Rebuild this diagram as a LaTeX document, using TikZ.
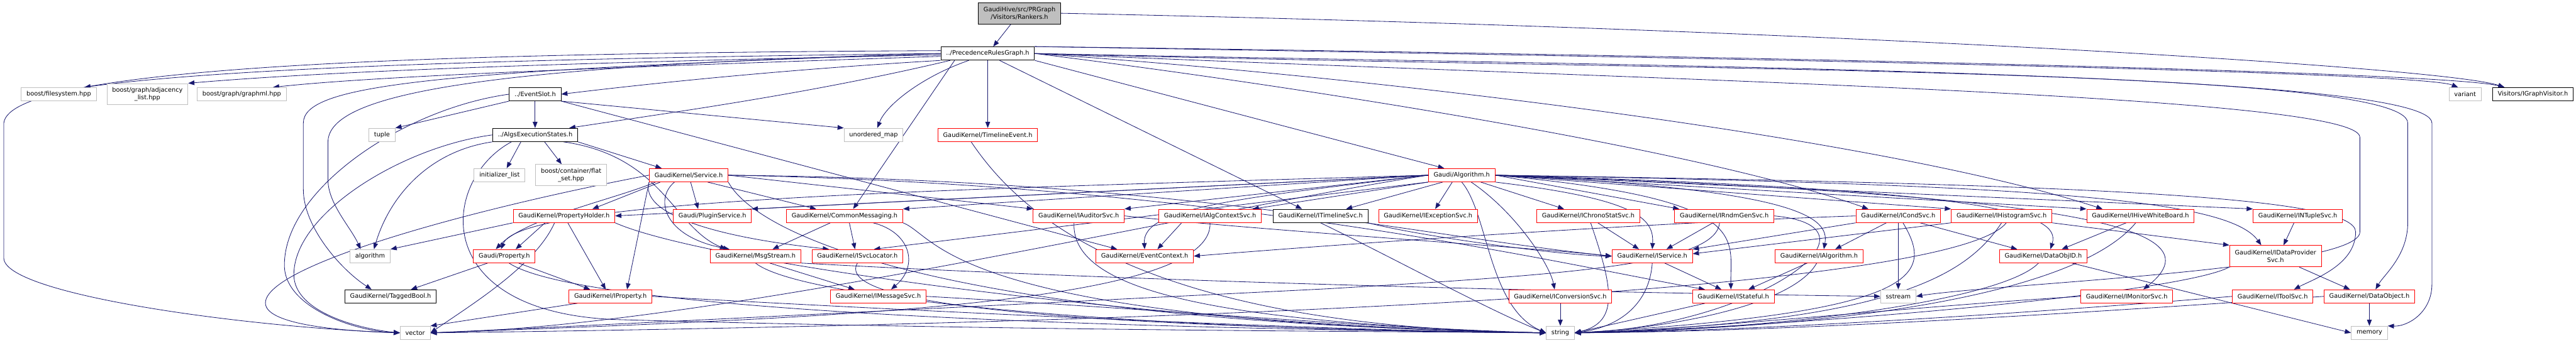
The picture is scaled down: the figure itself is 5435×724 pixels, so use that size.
\documentclass[tikz,border=0pt]{standalone}
\usepackage{fontspec}
\setmainfont{DejaVu Sans}
\usepackage{xcolor}
\usepackage{tikz}
\usetikzlibrary{arrows.meta,positioning,calc}
\definecolor{edgeblue}{HTML}{191970}
\definecolor{boxred}{HTML}{FF0000}
\definecolor{boxgray}{HTML}{BFBFBF}
\pgfdeclarelayer{bg}
\pgfsetlayers{bg,main}
\begin{document}
\begin{tikzpicture}[
  x=1pt, y=-1pt,
  font=\fontsize{13}{16}\selectfont,
  box/.style={draw, fill=white, line width=1.3pt, inner xsep=11pt, inner ysep=0pt, minimum height=28pt, align=center},
  redbox/.style={box, draw=boxred},
  graybox/.style={box, draw=boxgray},
  blackbox/.style={box, draw=black},
  rootbox/.style={box, draw=black, fill=boxgray},
  tall/.style={minimum height=45pt},
  arr/.style={-{Triangle[length=13pt,width=10pt]}, line width=1.1pt, draw=edgeblue}
]
\useasboundingbox (0,0) rectangle (5435,724);
\node[rootbox, tall] (rank) at (2151,28) {GaudiHive/src/PRGraph\\/Visitors/Rankers.h};
\node[blackbox] (prg) at (2084,113) {../PrecedenceRulesGraph.h};
\node[graybox] (fs) at (124,199) {boost/filesystem.hpp};
\node[graybox, tall] (adj) at (311,199) {boost/graph/adjacency\\\_list.hpp};
\node[graybox] (gml) at (510,199) {boost/graph/graphml.hpp};
\node[blackbox] (evs) at (1129,199) {../EventSlot.h};
\node[graybox] (var) at (5201,199) {variant};
\node[blackbox] (gvis) at (5344,199) {Visitors/IGraphVisitor.h};
\node[graybox] (tup) at (806,285) {tuple};
\node[blackbox] (aes) at (1129,285) {../AlgsExecutionStates.h};
\node[graybox] (umap) at (1843,285) {unordered\_map};
\node[redbox] (tle) at (2084,285) {GaudiKernel/TimelineEvent.h};
\node[graybox] (ini) at (1054,370) {initializer\_list};
\node[graybox, tall] (flat) at (1205,370) {boost/container/flat\\\_set.hpp};
\node[redbox] (svc) at (1453,370) {GaudiKernel/Service.h};
\node[redbox] (alg) at (3084,370) {Gaudi/Algorithm.h};
\node[redbox] (ph) at (1190,456) {GaudiKernel/PropertyHolder.h};
\node[redbox] (plug) at (1503,456) {Gaudi/PluginService.h};
\node[redbox] (cm) at (1782,456) {GaudiKernel/CommonMessaging.h};
\node[redbox] (iaud) at (2276,456) {GaudiKernel/IAuditorSvc.h};
\node[redbox] (iacs) at (2553,456) {GaudiKernel/IAlgContextSvc.h};
\node[blackbox] (itl) at (2786,456) {GaudiKernel/ITimelineSvc.h};
\node[redbox] (iexc) at (3013,456) {GaudiKernel/IExceptionSvc.h};
\node[redbox] (ichr) at (3351,456) {GaudiKernel/IChronoStatSvc.h};
\node[redbox] (irnd) at (3638,456) {GaudiKernel/IRndmGenSvc.h};
\node[redbox] (icnd) at (4005,456) {GaudiKernel/ICondSvc.h};
\node[redbox] (ihis) at (4223,456) {GaudiKernel/IHistogramSvc.h};
\node[redbox] (ihwb) at (4516,456) {GaudiKernel/IHiveWhiteBoard.h};
\node[redbox] (intp) at (4848,456) {GaudiKernel/INTupleSvc.h};
\node[graybox] (algo) at (781,541) {algorithm};
\node[redbox] (prop) at (1064,541) {Gaudi/Property.h};
\node[redbox] (msg) at (1594,541) {GaudiKernel/MsgStream.h};
\node[redbox] (isl) at (1809,541) {GaudiKernel/ISvcLocator.h};
\node[redbox] (ectx) at (2415,541) {GaudiKernel/EventContext.h};
\node[redbox] (isv) at (3486,541) {GaudiKernel/IService.h};
\node[redbox] (ialg) at (3838,541) {GaudiKernel/IAlgorithm.h};
\node[redbox] (doid) at (4311,541) {GaudiKernel/DataObjID.h};
\node[redbox, tall] (idp) at (4801,541) {GaudiKernel/IDataProvider\\Svc.h};
\node[blackbox] (tb) at (824,626) {GaudiKernel/TaggedBool.h};
\node[redbox] (iprop) at (1288,626) {GaudiKernel/IProperty.h};
\node[redbox] (imsg) at (1853,626) {GaudiKernel/IMessageSvc.h};
\node[redbox] (icnv) at (3292,626) {GaudiKernel/IConversionSvc.h};
\node[redbox] (ist) at (3657,626) {GaudiKernel/IStateful.h};
\node[graybox] (sst) at (4005,626) {sstream};
\node[redbox] (imon) at (4487,626) {GaudiKernel/IMonitorSvc.h};
\node[redbox] (itool) at (4795,626) {GaudiKernel/IToolSvc.h};
\node[redbox] (dobj) at (4999,626) {GaudiKernel/DataObject.h};
\node[graybox] (vec) at (876,703) {vector};
\node[graybox] (str) at (3292,703) {string};
\node[graybox] (mem) at (4999,703) {memory};
\begin{pgfonlayer}{bg}
\draw[arr] (rank) -- (prg);
\draw[arr] (rank.east) .. controls (3800,60) and (5150,140) .. ([xshift=-60pt]gvis.north);
\draw[arr] (prg.west) .. controls (1200,122) and (500,140) .. ([xshift=54pt]fs.north);
\draw[arr] ([yshift=-3pt]prg.west) .. controls (1200,132) and (700,150) .. (adj.north east);
\draw[arr] ([yshift=-6pt]prg.west) .. controls (1300,142) and (800,160) .. ([xshift=66pt]gml.north);
\draw[arr] ([yshift=6pt]prg.west) .. controls (900,112) and (20,140) .. (8,260) -- (8,545) .. controls (8,620) and (500,690) .. (vec.west);
\draw[arr] (prg.south west) .. controls (1600,150) and (1300,185) .. (evs.east);
\draw[arr] ([xshift=20pt]prg.south west) .. controls (1700,200) and (1400,240) .. ([xshift=72pt]aes.north);
\draw[arr] ([xshift=-40pt]prg.south) .. controls (1950,160) and (1870,220) .. ([xshift=8pt]umap.north);
\draw[arr] ([xshift=-70pt]prg.south) -- ([xshift=18pt]cm.north);
\draw[arr] (prg) -- (tle);
\draw[arr] ([xshift=25pt]prg.south) -- ([xshift=-39pt]itl.north);
\draw[arr] (prg.south east) -- ([xshift=-37pt]alg.north);
\draw[arr] (prg.east) .. controls (2800,190) and (3600,320) .. ([xshift=-63pt]icnd.north);
\draw[arr] (prg.east) .. controls (3000,170) and (4000,300) .. ([xshift=-80pt]ihwb.north);
\draw[arr] (prg.north east) .. controls (3500,120) and (5100,150) .. ([xshift=-15pt]var.north);
\draw[arr] (prg.north east) .. controls (3500,115) and (5150,150) .. ([xshift=-60pt]gvis.north);
\draw[arr] (prg.east) .. controls (3500,150) and (5080,140) .. (5080,260) -- (5080,470) .. controls (5080,540) and (5030,580) .. ([xshift=13pt]dobj.north);
\draw[arr] (prg.east) .. controls (3500,140) and (5131,150) .. (5131,260) -- (5131,600) .. controls (5131,660) and (5080,690) .. (mem.north east);
\draw[arr] (prg.east) .. controls (3500,170) and (4979,200) .. (4979,290) -- (4979,490) .. controls (4979,570) and (4200,600) .. (sst.east);
\draw[arr] (prg.west) .. controls (1000,140) and (692,200) .. (692,300) -- (692,380) .. controls (692,430) and (740,480) .. ([xshift=-20pt]algo.north);
\draw[arr] (prg.west) .. controls (900,150) and (640,180) .. (640,260) -- (640,400) .. controls (640,480) and (720,570) .. ([xshift=-40pt]tb.north);
\draw[arr] (evs) -- (aes);
\draw[arr] (evs.south west) -- (tup.north east);
\draw[arr] (evs.south east) -- (umap.north west);
\draw[arr] (evs.south east) -- ([xshift=-58pt]ectx.north);
\draw[arr] (evs.west) .. controls (850,230) and (600,400) .. (600,560) .. controls (600,650) and (750,700) .. (vec.west);
\draw[arr] ([xshift=-30pt]aes.south) -- ([xshift=15pt]ini.north);
\draw[arr] ([xshift=20pt]aes.south) -- ([xshift=-20pt]flat.north);
\draw[arr] (aes.south west) .. controls (900,320) and (820,420) .. ([xshift=8pt]algo.north);
\draw[arr] (aes.west) .. controls (850,310) and (620,450) .. (620,580) .. controls (620,660) and (760,695) .. (vec.west);
\draw[arr] (aes.south east) -- ([xshift=-57pt]svc.north);
\draw[arr] ([xshift=-50pt]aes.south) .. controls (930,380) and (900,660) .. (1300,675) .. controls (2200,700) and (3000,700) .. (str.west);
\draw[arr] ([xshift=60pt]aes.south) .. controls (1400,330) and (1420,480) .. ([xshift=-62pt]msg.north);
\draw[arr] ([xshift=-35pt]tle.south) .. controls (2150,450) and (2400,690) .. (str.west);
\draw[arr] ([xshift=-60pt]svc.south) -- ([xshift=60pt]ph.north);
\draw[arr] (svc) -- ([xshift=-30pt]plug.north);
\draw[arr] ([xshift=40pt]svc.south) -- ([xshift=-60pt]cm.north);
\draw[arr] ([xshift=-30pt]svc.south) .. controls (1380,420) and (1400,500) .. ([xshift=-55pt]msg.north);
\draw[arr] (svc.south west) .. controls (1350,450) and (1500,500) .. ([xshift=-60pt]isl.north);
\draw[arr] ([xshift=-70pt]svc.south) .. controls (1300,420) and (1110,460) .. ([xshift=-18pt]prop.north);
\draw[arr] (svc.east) -- (iaud.north west);
\draw[arr] (svc.east) .. controls (2500,380) and (3000,500) .. (isv.west);
\draw[arr] (svc.east) .. controls (2600,390) and (3300,560) .. ([xshift=-60pt]ist.north);
\draw[arr] (svc.south west) -- ([xshift=35pt]iprop.north);
\draw[arr] (svc.west) .. controls (1000,440) and (560,560) .. (560,640) .. controls (560,690) and (750,700) .. (vec.west);
\draw[arr] (svc.south east) .. controls (1600,500) and (2000,680) .. (str.west);
\draw[arr] (alg.west) -- (ph.east);
\draw[arr] (alg.west) -- (plug.north east);
\draw[arr] (alg.west) -- (cm.north east);
\draw[arr] (alg.west) -- (iaud.north east);
\draw[arr] (alg.south west) -- ([xshift=90pt]iacs.north);
\draw[arr] ([xshift=-40pt]alg.south) -- ([xshift=54pt]itl.north);
\draw[arr] ([xshift=-20pt]alg.south) -- ([xshift=15pt]iexc.north);
\draw[arr] ([xshift=40pt]alg.south) -- ([xshift=-51pt]ichr.north);
\draw[arr] (alg.east) -- ([xshift=-95pt]irnd.north);
\draw[arr] (alg.east) -- (ihis.north west);
\draw[arr] (alg.east) -- (ihwb.north west);
\draw[arr] (alg.east) -- (intp.north west);
\draw[arr] (alg.west) .. controls (2000,400) and (1100,420) .. ([xshift=-7pt]prop.north);
\draw[arr] (alg.south west) -- ([xshift=35pt]isl.north);
\draw[arr] (alg.west) .. controls (2600,420) and (2410,440) .. (ectx.north);
\draw[arr] (alg.south east) .. controls (3450,420) and (3490,460) .. (isv.north);
\draw[arr] (alg.east) .. controls (3800,400) and (3860,460) .. ([xshift=10pt]ialg.north);
\draw[arr] (alg.east) .. controls (4200,400) and (4350,450) .. ([xshift=15pt]doid.north);
\draw[arr] (alg.east) .. controls (4300,390) and (4700,420) .. ([xshift=-30pt]idp.north);
\draw[arr] ([xshift=20pt]alg.south) .. controls (3200,450) and (3270,560) .. ([xshift=-12pt]icnv.north);
\draw[arr] (alg.east) .. controls (4300,410) and (4700,470) .. ([xshift=35pt]imon.north);
\draw[arr] (alg.east) .. controls (4500,390) and (4970,420) .. (4970,490) .. controls (4970,560) and (4880,590) .. ([xshift=45pt]itool.north);
\draw[arr] (alg.south) .. controls (3140,450) and (3140,650) .. (str.west);
\draw[arr] (alg.west) .. controls (2500,450) and (1500,690) .. (vec.east);
\draw[arr] (alg.east) .. controls (3700,420) and (3650,500) .. ([xshift=-5pt]ist.north);
\draw[arr] (ph.south west) -- (algo.north east);
\draw[arr] ([xshift=-40pt]ph.south) -- ([xshift=24pt]prop.north);
\draw[arr] ([xshift=-20pt]ph.south) .. controls (1130,560) and (1000,640) .. (vec.east);
\draw[arr] ([xshift=8pt]ph.south) -- ([xshift=-10pt]iprop.north);
\draw[arr] (ph.south east) .. controls (1500,560) and (2500,690) .. (str.west);
\draw[arr] ([xshift=-30pt]cm.south) -- ([xshift=36pt]msg.north);
\draw[arr] ([xshift=10pt]cm.south) -- ([xshift=-5pt]isl.north);
\draw[arr] ([xshift=60pt]cm.south) .. controls (1920,490) and (1940,560) .. ([xshift=27pt]imsg.north);
\draw[arr] (cm.south east) .. controls (1980,500) and (2000,680) .. (str.west);
\draw[arr] ([xshift=-35pt]prop.south) -- ([xshift=43pt]tb.north);
\draw[arr] ([xshift=30pt]prop.south) -- ([xshift=-43pt]iprop.north);
\draw[arr] ([xshift=10pt]prop.south) .. controls (1200,640) and (2000,690) .. (str.west);
\draw[arr] ([xshift=-70pt]iprop.south) -- (vec.north east);
\draw[arr] (iprop.east) .. controls (1800,650) and (2800,700) .. (str.west);
\draw[arr] ([xshift=30pt]msg.south) -- ([xshift=-50pt]imsg.north);
\draw[arr] (msg.south) .. controls (1700,640) and (2500,700) .. (str.west);
\draw[arr] (msg.south east) .. controls (2500,600) and (3500,620) .. (sst.west);
\draw[arr] (isl.south) .. controls (1760,640) and (2200,690) .. (str.west);
\draw[arr] (imsg.east) .. controls (2400,650) and (3000,700) .. (str.west);
\draw[arr] ([xshift=-10pt]iaud.south) .. controls (2260,600) and (2500,680) .. (str.west);
\draw[arr] (iaud.east) .. controls (2700,490) and (3200,520) .. (isv.west);
\draw[arr] ([xshift=-60pt]iacs.south) -- ([xshift=27pt]ectx.north);
\draw[arr] (iacs.south) .. controls (2560,640) and (1800,670) .. (vec.east);
\draw[arr] (itl.south) .. controls (2950,550) and (3150,660) .. (str.west);
\draw[arr] (itl.south east) .. controls (3000,500) and (3300,540) .. (isv.west);
\draw[arr] ([xshift=20pt]ichr.south) -- ([xshift=-28pt]isv.north);
\draw[arr] ([xshift=5pt]ichr.south) .. controls (3400,600) and (3420,680) .. (str.east);
\draw[arr] ([xshift=-24pt]irnd.south) -- ([xshift=30pt]isv.north);
\draw[arr] ([xshift=-10pt]irnd.south) .. controls (3620,560) and (3300,580) .. (2800,610) .. controls (2000,650) and (1200,690) .. (vec.east);
\draw[arr] (irnd.east) .. controls (4000,480) and (3700,690) .. (str.east);
\draw[arr] ([xshift=-25pt]icnd.south) -- ([xshift=34pt]ialg.north);
\draw[arr] (icnd) -- (sst);
\draw[arr] (icnd.south west) -- (isv.north east);
\draw[arr] ([xshift=46pt]icnd.south) -- ([xshift=-55pt]doid.north);
\draw[arr] ([xshift=10pt]icnd.south) .. controls (4080,580) and (4060,660) .. (str.east);
\draw[arr] (icnd.west) .. controls (3500,470) and (2900,510) .. (ectx.east);
\draw[arr] (ihis.south west) -- ([yshift=5pt]isv.east);
\draw[arr] (ihis.south east) -- (idp.north west);
\draw[arr] (ihis.south) .. controls (4150,580) and (4000,680) .. (str.east);
\draw[arr] ([xshift=10pt]ihis.south) .. controls (4100,640) and (2000,690) .. (vec.east);
\draw[arr] ([xshift=-30pt]ihwb.south) -- ([xshift=39pt]doid.north);
\draw[arr] ([xshift=-10pt]ihwb.south) .. controls (4400,600) and (4000,690) .. (str.east);
\draw[arr] ([xshift=-8pt]intp.south) -- ([xshift=17pt]idp.north);
\draw[arr] ([xshift=26pt]isv.south) -- ([xshift=-25pt]ist.north);
\draw[arr] (isv.south) .. controls (3480,640) and (3420,690) .. (str.east);
\draw[arr] ([xshift=-25pt]ialg.south) -- ([xshift=32pt]ist.north);
\draw[arr] ([xshift=-5pt]ialg.south) .. controls (3780,650) and (3500,695) .. (str.east);
\draw[arr] ([xshift=-60pt]ist.south) -- (str.east);
\draw[arr] (icnv) -- (str);
\draw[arr] ([xshift=-10pt]doid.south) .. controls (4220,640) and (3700,700) .. (str.east);
\draw[arr] ([xshift=60pt]doid.south) -- (mem.west);
\draw[arr] ([xshift=50pt]idp.south) -- ([xshift=-41pt]dobj.north);
\draw[arr] (idp.south west) .. controls (4600,620) and (3800,690) .. (str.east);
\draw[arr] (imon.west) .. controls (4000,650) and (3600,695) .. (str.east);
\draw[arr] (itool.west) .. controls (4300,660) and (3700,700) .. (str.east);
\draw[arr] (dobj) -- (mem);
\draw[arr] (dobj.west) .. controls (4400,660) and (3800,700) .. (str.east);
\end{pgfonlayer}
\end{tikzpicture}
\end{document}
